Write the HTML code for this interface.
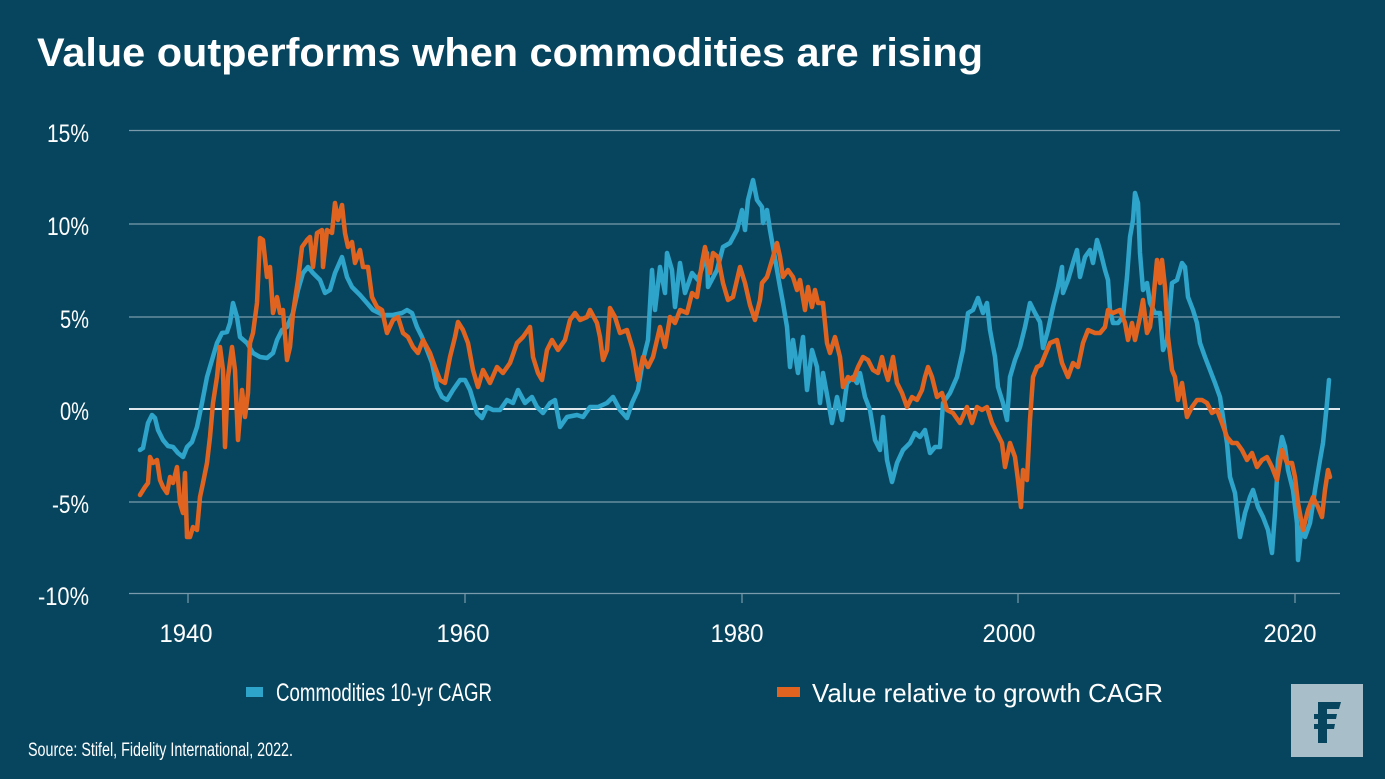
<!DOCTYPE html>
<html>
<head>
<meta charset="utf-8">
<style>
html,body{margin:0;padding:0;background:#07455f;}
body{width:1385px;height:779px;overflow:hidden;}
svg{display:block;}
text{font-family:"Liberation Sans",sans-serif;fill:#ffffff;}
</style>
</head>
<body>
<svg width="1385" height="779" viewBox="0 0 1385 779" xmlns="http://www.w3.org/2000/svg">
<rect x="0" y="0" width="1385" height="779" fill="#07455f"/>
<text x="37" y="66" font-size="40" font-weight="bold" textLength="946" lengthAdjust="spacingAndGlyphs">Value outperforms when commodities are rising</text>

<g stroke="#8fabb9" stroke-width="1.2" opacity="0.85">
<line x1="129" y1="130.5" x2="1340" y2="130.5"/>
<line x1="129" y1="224" x2="1340" y2="224"/>
<line x1="129" y1="317" x2="1340" y2="317"/>
<line x1="129" y1="502" x2="1340" y2="502"/>
<line x1="129" y1="593.5" x2="1340" y2="593.5"/>
<line x1="188" y1="593" x2="188" y2="603"/>
<line x1="465" y1="593" x2="465" y2="603"/>
<line x1="742" y1="593" x2="742" y2="603"/>
<line x1="1018" y1="593" x2="1018" y2="603"/>
<line x1="1295" y1="593" x2="1295" y2="603"/>
</g>
<line x1="129" y1="409" x2="1340" y2="409" stroke="#dfe7ec" stroke-width="2"/>

<g font-size="25" text-anchor="end">
<text x="89" y="142" textLength="42" lengthAdjust="spacingAndGlyphs">15%</text>
<text x="89" y="235" textLength="42" lengthAdjust="spacingAndGlyphs">10%</text>
<text x="89" y="328" textLength="29" lengthAdjust="spacingAndGlyphs">5%</text>
<text x="89" y="420" textLength="29" lengthAdjust="spacingAndGlyphs">0%</text>
<text x="89" y="513" textLength="37" lengthAdjust="spacingAndGlyphs">-5%</text>
<text x="89" y="605" textLength="51" lengthAdjust="spacingAndGlyphs">-10%</text>
</g>
<g font-size="25" text-anchor="middle">
<text x="186" y="642" textLength="53" lengthAdjust="spacingAndGlyphs">1940</text>
<text x="463" y="642" textLength="53" lengthAdjust="spacingAndGlyphs">1960</text>
<text x="737" y="642" textLength="53" lengthAdjust="spacingAndGlyphs">1980</text>
<text x="1009" y="642" textLength="53" lengthAdjust="spacingAndGlyphs">2000</text>
<text x="1290" y="642" textLength="53" lengthAdjust="spacingAndGlyphs">2020</text>
</g>

<polyline fill="none" stroke="#2ea4cb" stroke-width="4.5" stroke-linejoin="round" stroke-linecap="round" points="140,450 143,448 148,423 152,415 155,418 158,430 163,440 168,446 173,447 178,453 183,457 187,447 192,442 197,427 202,403 207,377 212,360 217,343 222,333 227,332 230,323 233,303 237,317 240,337 247,343 253,353 260,357 267,358 273,353 277,340 282,330 287,327 293,313 298,290 303,273 308,267 313,273 320,280 325,293 330,290 335,273 342,257 347,277 352,287 360,295 367,303 373,310 383,315 393,315 402,313 407,310 412,313 417,327 422,337 427,350 432,363 437,387 442,397 447,400 453,390 460,380 465,380 470,390 477,413 482,418 487,407 493,410 500,410 507,400 513,403 518,390 525,403 532,397 537,407 543,413 550,403 555,400 560,427 567,417 577,415 583,417 590,407 598,407 607,403 613,397 620,410 627,418 632,403 638,390 643,360 648,340 652,270 655,310 660,267 665,293 667,253 672,270 675,307 680,263 685,293 692,273 698,280 707,253 708,287 717,270 723,247 730,243 737,230 742,210 745,230 748,200 753,180 757,200 762,207 763,223 767,210 770,230 773,247 777,270 780,287 783,303 787,327 790,367 793,340 798,373 803,337 807,390 812,350 817,367 820,403 823,373 828,400 832,423 837,397 842,420 847,383 853,377 857,383 860,373 865,397 870,410 875,440 880,450 883,417 887,460 892,482 897,463 903,450 910,443 915,433 920,437 925,430 930,453 935,447 940,447 943,403 950,393 957,377 963,350 968,313 973,310 978,298 983,313 987,303 990,330 995,357 998,387 1003,403 1007,420 1010,377 1015,360 1020,347 1025,327 1030,303 1035,313 1040,322 1043,348 1048,330 1053,307 1058,287 1062,267 1063,293 1068,280 1073,263 1077,250 1080,277 1085,257 1090,250 1093,263 1097,240 1100,250 1105,270 1108,280 1110,310 1113,323 1118,323 1123,317 1127,277 1130,237 1133,220 1135,193 1138,203 1140,253 1143,290 1147,283 1150,303 1155,313 1160,313 1163,350 1167,340 1172,283 1177,280 1182,263 1185,267 1188,297 1193,310 1197,323 1200,343 1205,357 1210,370 1215,383 1220,397 1223,417 1227,443 1230,477 1235,493 1240,537 1245,513 1250,497 1253,490 1258,507 1263,517 1268,530 1272,553 1275,513 1278,460 1282,437 1285,447 1288,470 1293,490 1297,523 1298,560 1302,523 1305,537 1310,523 1315,490 1320,460 1323,443 1327,403 1329,380"/>

<polyline fill="none" stroke="#e0641f" stroke-width="4.5" stroke-linejoin="round" stroke-linecap="round" points="140,495 145,487 148,483 150,457 153,463 157,460 160,480 163,487 167,493 170,477 173,483 177,467 180,503 183,513 185,473 187,537 190,537 193,527 197,530 200,497 203,483 207,463 210,437 213,403 217,377 220,347 223,370 225,447 228,377 232,347 235,370 238,440 242,390 245,417 248,393 250,343 253,333 257,303 260,238 263,240 267,277 270,267 273,313 277,297 280,313 283,310 287,360 290,347 293,313 298,280 302,247 307,240 310,237 313,267 317,233 322,230 323,267 327,230 332,233 335,203 338,220 342,205 345,233 348,247 352,242 355,263 360,250 363,267 368,267 372,297 377,307 382,310 387,333 393,320 398,317 403,333 408,337 413,347 418,353 423,340 430,353 435,367 440,380 445,383 450,357 455,337 458,322 463,330 468,343 473,370 478,387 483,370 490,383 497,367 503,373 510,363 517,343 523,337 530,327 533,357 538,373 542,380 547,350 552,340 558,350 565,340 570,320 575,313 580,320 587,317 590,310 597,323 600,337 603,360 607,350 610,308 615,317 620,333 627,330 633,350 638,380 643,357 648,367 653,357 660,327 665,347 670,317 675,323 680,310 687,313 692,293 697,297 702,263 705,247 710,273 713,253 718,257 723,283 728,300 733,297 740,267 745,283 750,305 755,320 760,300 762,283 767,277 773,257 777,243 780,257 783,277 788,270 793,277 797,290 800,280 805,310 808,287 812,307 815,290 818,303 823,303 827,343 830,353 835,337 840,357 843,387 848,377 853,380 858,367 863,357 868,360 873,370 878,373 882,357 885,370 888,380 893,357 897,383 902,393 907,407 912,397 917,400 922,390 925,377 928,367 932,377 937,397 942,393 947,410 953,413 960,423 967,407 972,423 977,407 982,410 987,407 992,423 997,433 1002,443 1005,467 1010,443 1015,457 1018,480 1021,507 1023,470 1027,480 1030,420 1033,377 1037,367 1041,365 1045,355 1050,343 1057,340 1062,363 1068,377 1073,363 1078,367 1083,343 1088,330 1095,333 1100,333 1105,327 1108,310 1113,313 1120,310 1125,323 1128,340 1132,323 1135,340 1140,317 1143,300 1147,333 1150,327 1153,303 1157,260 1160,283 1162,260 1165,287 1168,337 1172,370 1175,377 1178,400 1182,383 1187,417 1192,407 1197,400 1202,400 1207,403 1212,413 1217,410 1222,423 1227,437 1232,443 1237,443 1242,450 1247,460 1252,453 1257,467 1262,460 1267,457 1272,467 1277,480 1282,450 1287,463 1292,463 1295,477 1298,503 1303,530 1308,510 1313,497 1318,507 1322,517 1325,490 1328,470 1330,477"/>

<rect x="246" y="687" width="17" height="10" fill="#2ea4cb"/>
<text x="276" y="701" font-size="25" textLength="216" lengthAdjust="spacingAndGlyphs">Commodities 10-yr CAGR</text>
<rect x="777" y="687" width="23" height="10" fill="#e0641f"/>
<text x="812" y="702" font-size="26" textLength="351" lengthAdjust="spacingAndGlyphs">Value relative to growth CAGR</text>

<text x="28" y="756" font-size="19" textLength="265" lengthAdjust="spacingAndGlyphs">Source: Stifel, Fidelity International, 2022.</text>

<rect x="1291" y="684" width="72" height="73" fill="#a8bfca"/>
<g fill="#07455f">
<polygon points="1318,702 1341,702 1339,709 1318,709"/>
<rect x="1318" y="702" width="9" height="41"/>
<polygon points="1314,714 1337,714 1336,719 1314,719"/>
<polygon points="1314,724 1335,724 1334,729 1314,729"/>
</g>
</svg>
</body>
</html>
